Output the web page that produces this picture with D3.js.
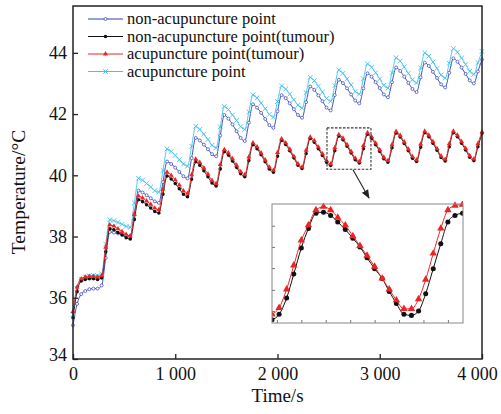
<!DOCTYPE html>
<html>
<head>
<meta charset="utf-8">
<script src="https://cdn.jsdelivr.net/npm/d3@7"></script>
<style>
body { margin: 0; background: #fff; }
text { font-family: "Liberation Serif", "Times New Roman", serif; fill: #111; }
</style>
</head>
<body>
<svg id="chart"></svg>
<script>
// time axis, one sample every 40 s
const time = d3.range(0, 4001, 40);

// non-acupuncture point
const nonAcu = [35.1, 35.8, 36.12, 36.22, 36.28, 36.3, 36.3, 36.4, 37.3, 38.15,
  38.13, 38.1, 38.07, 38.03, 38.02, 38.76, 39.5,
  39.44, 39.35, 39.25, 39.15, 39.1, 39.78, 40.45,
  40.37, 40.25, 40.11, 39.97, 39.9, 40.56, 41.22,
  41.14, 41.0, 40.85, 40.69, 40.62, 41.3, 41.97,
  41.85, 41.66, 41.44, 41.22, 41.12, 41.72, 42.32,
  42.21, 42.04, 41.84, 41.64, 41.55, 42.09, 42.62,
  42.52, 42.35, 42.16, 41.97, 41.88, 42.39, 42.9,
  42.79, 42.61, 42.42, 42.21, 42.12, 42.62, 43.12,
  43.01, 42.84, 42.64, 42.44, 42.35, 42.84, 43.33,
  43.22, 43.04, 42.85, 42.64, 42.55, 43.04, 43.52,
  43.41, 43.22, 43.02, 42.82, 42.72, 43.2, 43.68,
  43.57, 43.38, 43.18, 42.97, 42.87, 43.35, 43.82,
  43.71, 43.52, 43.31, 43.1, 43.0, 43.39, 43.78];

// non-acupuncture point (tumour)
const nonAcuTumour = [35.35, 36.2, 36.55, 36.6, 36.62, 36.62, 36.6, 36.65, 37.5, 38.25,
  38.22, 38.13, 38.05, 37.96, 37.92, 38.56, 39.2,
  39.14, 39.04, 38.93, 38.82, 38.77, 39.38, 39.98,
  39.88, 39.73, 39.56, 39.38, 39.3, 39.87, 40.44,
  40.33, 40.15, 39.95, 39.75, 39.65, 40.21, 40.77,
  40.66, 40.47, 40.26, 40.05, 39.95, 40.48, 41.0,
  40.87, 40.67, 40.44, 40.21, 40.1, 40.62, 41.14,
  41.01, 40.8, 40.57, 40.33, 40.22, 40.71, 41.2,
  41.08, 40.87, 40.65, 40.43, 40.32, 40.8, 41.28,
  41.16, 40.95, 40.73, 40.51, 40.4, 40.87, 41.34,
  41.21, 41.0, 40.78, 40.54, 40.43, 40.9, 41.38,
  41.25, 41.04, 40.8, 40.56, 40.45, 40.92, 41.39,
  41.26, 41.05, 40.82, 40.58, 40.47, 40.93, 41.39,
  41.26, 41.05, 40.83, 40.59, 40.48, 40.93, 41.37];

// acupuncture point (tumour)
const acuTumour = [35.55, 36.35, 36.62, 36.68, 36.7, 36.7, 36.68, 36.72, 37.65, 38.38,
  38.34, 38.25, 38.16, 38.07, 38.02, 38.72, 39.32,
  39.26, 39.16, 39.05, 38.93, 38.88, 39.55, 40.1,
  40.0, 39.85, 39.68, 39.49, 39.41, 40.02, 40.53,
  40.42, 40.24, 40.04, 39.83, 39.73, 40.35, 40.84,
  40.73, 40.54, 40.33, 40.12, 40.02, 40.6, 41.06,
  40.93, 40.73, 40.5, 40.27, 40.16, 40.74, 41.19,
  41.06, 40.85, 40.62, 40.38, 40.27, 40.82, 41.25,
  41.13, 40.92, 40.7, 40.48, 40.37, 40.9, 41.33,
  41.21, 41.0, 40.78, 40.56, 40.45, 40.97, 41.39,
  41.26, 41.05, 40.83, 40.59, 40.48, 41.0, 41.43,
  41.3, 41.09, 40.85, 40.61, 40.5, 41.02, 41.44,
  41.31, 41.1, 40.87, 40.63, 40.52, 41.03, 41.44,
  41.31, 41.1, 40.88, 40.64, 40.53, 41.03, 41.42];

// acupuncture point
const acu = [35.45, 36.3, 36.6, 36.68, 36.72, 36.73, 36.72, 36.78, 37.75, 38.55,
  38.52, 38.46, 38.4, 38.33, 38.3, 39.1, 39.9,
  39.84, 39.73, 39.62, 39.5, 39.45, 40.16, 40.86,
  40.78, 40.65, 40.51, 40.37, 40.3, 40.95, 41.6,
  41.5, 41.34, 41.17, 40.98, 40.9, 41.58, 42.25,
  42.15, 41.97, 41.79, 41.59, 41.5, 42.07, 42.63,
  42.53, 42.36, 42.18, 41.99, 41.9, 42.41, 42.92,
  42.82, 42.65, 42.47, 42.29, 42.2, 42.7, 43.2,
  43.09, 42.91, 42.72, 42.51, 42.42, 42.93, 43.44,
  43.33, 43.15, 42.95, 42.74, 42.65, 43.15, 43.64,
  43.53, 43.35, 43.15, 42.94, 42.85, 43.35, 43.84,
  43.73, 43.54, 43.33, 43.12, 43.02, 43.51, 44.0,
  43.89, 43.7, 43.49, 43.28, 43.18, 43.66, 44.14,
  44.02, 43.83, 43.62, 43.4, 43.3, 43.68, 44.05];

// enlarged window (inset)
const insetTime = [2484, 2500, 2517, 2533, 2550, 2566, 2583, 2600, 2616, 2632, 2649, 2666, 2682, 2698,
  2715, 2732, 2748, 2764, 2781, 2798, 2814, 2830, 2847, 2864, 2880, 2896, 2913];
const insetAcuTumour = [40.35, 40.41, 40.58, 40.8, 41.03, 41.17, 41.31, 41.34, 41.31, 41.24, 41.17, 41.07, 40.98, 40.89,
  40.79, 40.68, 40.58, 40.48, 40.4, 40.4, 40.49, 40.67, 40.91, 41.14, 41.31, 41.35, 41.36];
const insetNonAcuTumour = [40.3, 40.35, 40.5, 40.72, 40.96, 41.14, 41.28, 41.29, 41.26, 41.2, 41.13, 41.05, 40.97, 40.87,
  40.77, 40.68, 40.56, 40.45, 40.35, 40.34, 40.38, 40.54, 40.77, 41.0, 41.2, 41.26, 41.28];
const zoomWindow = {t0: 2484, t1: 2914, y0: 40.2, y1: 41.55};

const xTicks = [0, 1000, 2000, 3000, 4000];
const xTickLabels = ['0', '1 000', '2 000', '3 000', '4 000'];
const yTicks = [34, 36, 38, 40, 42, 44];
const insetXTicks = [2495, 2550, 2605, 2660, 2715, 2770, 2825, 2880];
const insetYTicks = [41.165, 40.97, 40.775, 40.575, 40.38];

const series = [
	{name: 'non-acupuncture point', values: nonAcu, color: '#2f3fb2', mark: 'ring'},
	{name: 'non-acupuncture point(tumour)', values: nonAcuTumour, color: '#111', mark: 'dot'},
	{name: 'acupuncture point(tumour)', values: acuTumour, color: '#ee2424', mark: 'tri'},
	{name: 'acupuncture point', values: acu, color: '#45c2ea', mark: 'cross'}
];

// dimensions
const W = 501, H = 414;
const margin = {top: 6, right: 19, bottom: 55, left: 73};

const $svg = d3.select('#chart').attr('width', W).attr('height', H);

const scaleX = d3.scaleLinear().domain([0, 4000]).range([margin.left, W - margin.right]);
const scaleY = d3.scaleLinear().domain([34, 45.53]).range([H - margin.bottom, margin.top]);

const line = d3.line().curve(d3.curveMonotoneX);

function markPath(kind, size) {
	const type = {ring: d3.symbolCircle, dot: d3.symbolCircle, tri: d3.symbolTriangle, cross: d3.symbolTimes}[kind];
	return d3.symbol().type(type).size(size)();
}
function styleMark(sel, s) {
	if (s.mark === 'ring') sel.attr('fill', '#fff').attr('stroke', s.color).attr('stroke-width', 0.7);
	else if (s.mark === 'cross') sel.attr('fill', 'none').attr('stroke', s.color).attr('stroke-width', 0.9);
	else sel.attr('fill', s.color).attr('stroke', 'none');
}
const markSize = {ring: 7, dot: 10, tri: 11, cross: 16};

// draw order: blue, cyan, black, red
[0, 3, 1, 2].forEach(k => {
	const s = series[k];
	const pts = time.map((t, i) => [scaleX(t), scaleY(s.values[i])]);
	$svg.append('path')
		.attr('d', line(pts))
		.attr('fill', 'none')
		.attr('stroke', s.color)
		.attr('stroke-width', 0.9);
	$svg.append('g').selectAll('path')
		.data(pts)
		.enter()
		.append('path')
		.attr('d', markPath(s.mark, markSize[s.mark]))
		.attr('transform', d => 'translate(' + d[0] + ',' + d[1] + ')')
		.call(styleMark, s);
});

// axes
$svg.append('g')
	.attr('transform', 'translate(0,' + (H - margin.bottom) + ')')
	.call(d3.axisBottom(scaleX).tickValues(xTicks).tickSizeInner(-5).tickSizeOuter(0).tickPadding(8)
		.tickFormat((d, i) => xTickLabels[i]))
	.call(g => g.select('.domain').remove())
	.call(g => g.selectAll('line').attr('stroke', '#222').attr('stroke-width', 1.3))
	.call(g => g.selectAll('text').attr('font-size', 18).attr('fill', '#111')
		.style('font-family', '"Liberation Serif", serif')
		.attr('dx', d => d === 4000 ? -5 : 0));

$svg.append('g')
	.attr('transform', 'translate(' + margin.left + ',0)')
	.call(d3.axisLeft(scaleY).tickValues(yTicks).tickSizeInner(-5).tickSizeOuter(0).tickPadding(6))
	.call(g => g.select('.domain').remove())
	.call(g => g.selectAll('line').attr('stroke', '#222').attr('stroke-width', 1.3))
	.call(g => g.selectAll('text').attr('font-size', 18).attr('fill', '#111')
		.style('font-family', '"Liberation Serif", serif')
		.attr('y', d => d === 34 ? -4 : 0));

// frame
$svg.append('rect')
	.attr('x', scaleX(0)).attr('y', scaleY(45.53))
	.attr('width', scaleX(4000) - scaleX(0))
	.attr('height', scaleY(34) - scaleY(45.53))
	.attr('fill', 'none').attr('stroke', '#222').attr('stroke-width', 1.5);

// axis titles
$svg.append('text')
	.attr('x', (scaleX(0) + scaleX(4000)) / 2)
	.attr('y', 402)
	.attr('text-anchor', 'middle')
	.attr('font-size', 19)
	.text('Time/s');

$svg.append('text')
	.attr('transform', 'translate(25,192) rotate(-90)')
	.attr('text-anchor', 'middle')
	.attr('font-size', 19.5)
	.text('Temperature/°C');

// legend
const $legend = $svg.append('g').attr('transform', 'translate(88,19)');
series.forEach((s, i) => {
	const g = $legend.append('g').attr('transform', 'translate(0,' + (i * 17.5) + ')');
	g.append('line').attr('x1', 0).attr('x2', 35).attr('y1', 0).attr('y2', 0)
		.attr('stroke', s.color).attr('stroke-width', 1);
	g.append('path').attr('d', markPath(s.mark, markSize[s.mark]))
		.attr('transform', 'translate(17.5,0)')
		.call(styleMark, s);
	g.append('text').attr('x', 39).attr('y', 0).attr('dy', '0.33em')
		.attr('font-size', 16.5).text(s.name);
});

// dashed zoom window and arrow
$svg.append('rect')
	.attr('x', scaleX(zoomWindow.t0)).attr('y', scaleY(zoomWindow.y1))
	.attr('width', scaleX(zoomWindow.t1) - scaleX(zoomWindow.t0))
	.attr('height', scaleY(zoomWindow.y0) - scaleY(zoomWindow.y1))
	.attr('fill', 'none').attr('stroke', '#333').attr('stroke-width', 1.1)
	.attr('stroke-dasharray', '2.5,1.5');

$svg.append('defs').append('marker')
	.attr('id', 'arrow').attr('viewBox', '0 0 10 10')
	.attr('refX', 9).attr('refY', 5)
	.attr('markerWidth', 9).attr('markerHeight', 9)
	.attr('markerUnits', 'userSpaceOnUse')
	.attr('orient', 'auto')
	.append('path').attr('d', 'M0,1L10,5L0,9Z').attr('fill', '#222');

$svg.append('line')
	.attr('x1', scaleX(2738)).attr('y1', scaleY(40.18))
	.attr('x2', scaleX(2895)).attr('y2', scaleY(39.26))
	.attr('stroke', '#222').attr('stroke-width', 1.1)
	.attr('marker-end', 'url(#arrow)');

// inset
const inset = {x: 272, y: 204, w: 191, h: 119};
const insetX = d3.scaleLinear().domain([2484, 2914]).range([inset.x, inset.x + inset.w]);
const insetY = d3.scaleLinear().domain([40.27, 41.365]).range([inset.y + inset.h, inset.y]);

$svg.append('rect')
	.attr('x', inset.x).attr('y', inset.y).attr('width', inset.w).attr('height', inset.h)
	.attr('fill', '#fff');

$svg.append('clipPath').attr('id', 'insetClip')
	.append('rect').attr('x', inset.x).attr('y', inset.y - 3).attr('width', inset.w).attr('height', inset.h + 3);

const $inset = $svg.append('g').attr('clip-path', 'url(#insetClip)');
[
	{values: insetNonAcuTumour, color: '#111', mark: 'dot', size: 20},
	{values: insetAcuTumour, color: '#ee2424', mark: 'tri', size: 24}
].forEach(s => {
	const pts = insetTime.map((t, i) => [insetX(t), insetY(s.values[i])]);
	$inset.append('path').attr('d', line(pts))
		.attr('fill', 'none').attr('stroke', s.color).attr('stroke-width', 1);
	$inset.append('g').selectAll('path')
		.data(pts)
		.enter()
		.append('path')
		.attr('d', markPath(s.mark, s.size))
		.attr('transform', d => 'translate(' + d[0] + ',' + d[1] + ')')
		.attr('fill', s.color);
});

$svg.append('g')
	.attr('transform', 'translate(0,' + (inset.y + inset.h) + ')')
	.call(d3.axisBottom(insetX).tickValues(insetXTicks).tickSizeInner(-3).tickSizeOuter(0).tickFormat(''))
	.call(g => g.select('.domain').remove())
	.call(g => g.selectAll('line').attr('stroke', '#777'));

$svg.append('g')
	.attr('transform', 'translate(' + inset.x + ',0)')
	.call(d3.axisLeft(insetY).tickValues(insetYTicks).tickSizeInner(-3).tickSizeOuter(0).tickFormat(''))
	.call(g => g.select('.domain').remove())
	.call(g => g.selectAll('line').attr('stroke', '#777'));

$svg.append('rect')
	.attr('x', inset.x).attr('y', inset.y).attr('width', inset.w).attr('height', inset.h)
	.attr('fill', 'none').attr('stroke', '#888').attr('stroke-width', 1);
</script>
</body>
</html>
